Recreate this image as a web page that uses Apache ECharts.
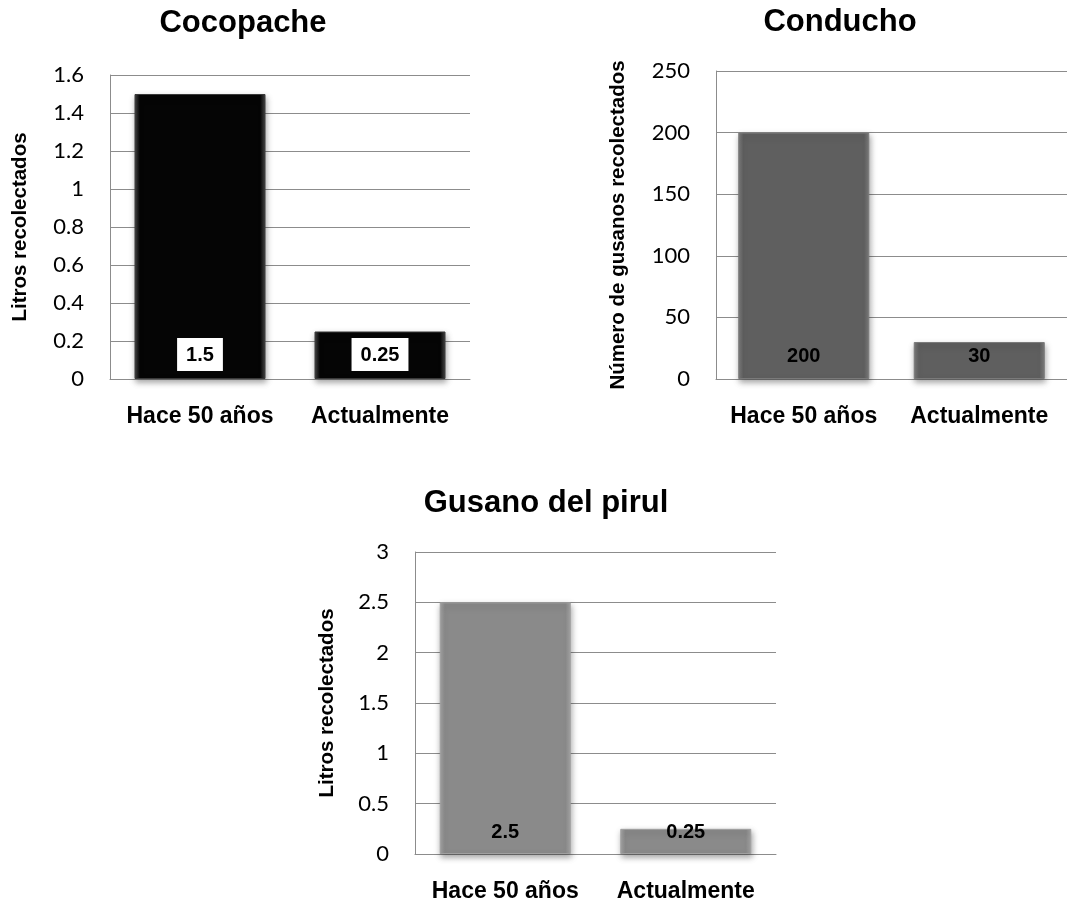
<!DOCTYPE html>
<html>
<head>
<meta charset="utf-8">
<script src="https://cdn.jsdelivr.net/npm/echarts@6/dist/echarts.min.js"></script>
<style>
  html, body { margin: 0; padding: 0; background: #fff; }
  #chart { width: 1067px; height: 905px; }
</style>
</head>
<body>
<div id="chart"></div>
<script>
// Shared categories
const categories = ['Hace 50 años', 'Actualmente'];

// Collected amounts per insect
const cocopacheValues = [1.5, 0.25];
const conduchoValues = [200, 30];
const pirulValues = [2.5, 0.25];

// Panel titles and axis names
const panelTitles = ['Cocopache', 'Conducho', 'Gusano del pirul'];
const axisNames = ['Litros recolectados', 'Número de gusanos recolectados', 'Litros recolectados'];

// Value-axis ranges
const axisMax = [1.6, 250, 3];
const axisStep = [0.2, 50, 0.5];

const tickFont = 'Lato, "Open Sans", sans-serif';
const boldFont = '"Liberation Sans", Arial, sans-serif';

// Bevelled bar fill: lighter rim on the sides, flat face in the middle
function bevel(edge, face) {
  return {
    type: 'linear', x: 0, y: 0, x2: 1, y2: 0,
    colorStops: [
      { offset: 0, color: edge },
      { offset: 0.04, color: face },
      { offset: 0.96, color: face },
      { offset: 1, color: edge }
    ]
  };
}

const grids = [
  { left: 110, top: 75, width: 360, height: 304 },
  { left: 716, top: 71, width: 352, height: 308 },
  { left: 415, top: 552, width: 361, height: 302 }
];

const titlePos = [
  { x: 238, y: 3 },
  { x: 835, y: 2 },
  { x: 541, y: 483 }
];

const barStyles = [
  { edge: '#4a4a4a', face: '#050505', border: '#3a3a3a' },
  { edge: '#808080', face: '#5f5f5f', border: '#7a7a7a' },
  { edge: '#a8a8a8', face: '#8a8a8a', border: '#a0a0a0' }
];

const nameGaps = [79, 87, 77];
const labelGaps = [8, 13, 12];
const seriesData = [cocopacheValues, conduchoValues, pirulValues];

const option = {
  animation: false,
  backgroundColor: '#ffffff',
  title: panelTitles.map((t, i) => ({
    text: t, left: titlePos[i].x, top: titlePos[i].y, textAlign: 'center',
    textStyle: { fontFamily: boldFont, fontWeight: 'bold', fontSize: 31, color: '#000' }
  })),
  grid: grids,
  xAxis: grids.map((g, i) => ({
    type: 'category',
    gridIndex: i,
    data: categories,
    axisLine: { show: true, lineStyle: { color: '#8c8c8c', width: 1 } },
    axisTick: { show: false },
    axisLabel: {
      interval: 0,
      hideOverlap: false,
      margin: 26,
      fontFamily: boldFont, fontWeight: 'bold', fontSize: 23, color: '#000'
    }
  })),
  yAxis: grids.map((g, i) => ({
    type: 'value',
    gridIndex: i,
    min: 0,
    max: axisMax[i],
    interval: axisStep[i],
    name: axisNames[i],
    nameLocation: 'middle',
    nameGap: nameGaps[i],
    nameRotate: 90,
    nameTextStyle: { fontFamily: boldFont, fontWeight: 'bold', fontSize: 20.5, color: '#000' },
    axisLine: { show: true, lineStyle: { color: '#8c8c8c', width: 1 } },
    axisTick: { show: false },
    splitLine: { show: true, lineStyle: { color: '#8c8c8c', width: 1 } },
    axisLabel: {
      margin: 26,
      fontFamily: tickFont, fontSize: 22, color: '#000'
    }
  })),
  series: seriesData.map((vals, i) => ({
    type: 'bar',
    xAxisIndex: i,
    yAxisIndex: i,
    data: vals,
    barWidth: 131,
    itemStyle: {
      color: bevel(barStyles[i].edge, barStyles[i].face),
      borderColor: barStyles[i].border,
      borderWidth: 1,
      shadowBlur: 6,
      shadowOffsetX: 1,
      shadowOffsetY: 3,
      shadowColor: 'rgba(0,0,0,0.35)'
    },
    label: i === 0 ? {
      show: true,
      position: 'insideBottom',
      distance: labelGaps[i],
      backgroundColor: '#ffffff',
      padding: [7, 9, 6, 9],
      fontFamily: boldFont, fontWeight: 'bold', fontSize: 20, color: '#000'
    } : {
      show: true,
      position: 'insideBottom',
      distance: labelGaps[i],
      fontFamily: boldFont, fontWeight: 'bold', fontSize: 20, color: '#000'
    }
  }))
};

const chart = echarts.init(document.getElementById('chart'), null, { renderer: 'canvas' });
chart.setOption(option);
</script>
</body>
</html>
